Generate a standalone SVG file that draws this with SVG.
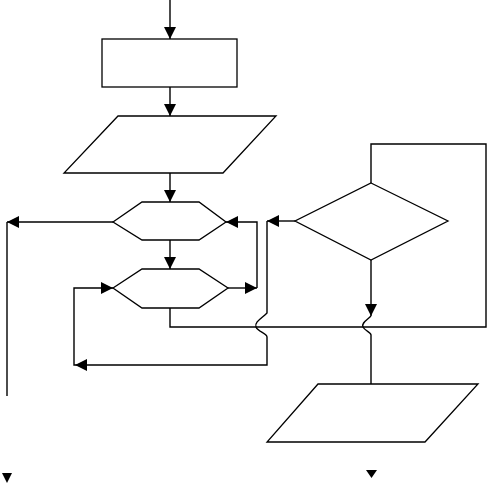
<svg xmlns="http://www.w3.org/2000/svg" width="487" height="485" viewBox="0 0 487 485">
<style>
.n{fill:#fff;stroke:#000;stroke-width:1.3}
.c{fill:none;stroke:#000;stroke-width:1.4}
.a{marker-end:url(#ah)}
.h{fill:#000;stroke:none}
</style>
<defs>
<marker id="ah" markerUnits="userSpaceOnUse" markerWidth="12" markerHeight="12" refX="10" refY="5" orient="auto" viewBox="0 0 10 10">
<path d="M0,0 L10,5 L0,10 z" fill="#000"/>
</marker>
</defs>
<rect width="487" height="485" fill="#fff"/>
<g id="connectors">
<path class="c a" d="M170,0 V39"/>
<path class="c a" d="M170,87 V116"/>
<path class="c a" d="M170,173 V202"/>
<path class="c a" d="M113,222 H7"/>
<path class="c" d="M7,222 V396"/>
<path class="c a" d="M170,240 V269"/>
<path class="c a" d="M228,288 H257"/>
<path class="c a" d="M257,288 V222 H226"/>
<path class="c" d="M170,308 V327 H486 V144 H371 V183"/>
<path class="c a" d="M295,221 H267"/>
<path class="c a" d="M267,221 V313 C262,318 254,322 256,327 C258,332 267,333 267,337 V365 H75"/>
<path class="c a" d="M75,365 H74 V288 H113"/>
<path class="c a" d="M371,260 V316"/>
<path class="c" d="M371,316 C367,320 361,323 363,327 C365,331 371,332 371,335 V384"/>
<polygon class="h" points="2,473 12,473 7,483"/>
<polygon class="h" points="366,470 377,470 371.5,478"/>
</g>
<g id="start-rect"><rect class="n" x="102" y="39" width="135" height="48"/></g>
<g id="input1"><polygon class="n" points="118,116 276,116 223,173 64,173"/></g>
<g id="hex1"><polygon class="n" points="113,222 142,202 199,202 226,222 199,240 142,240"/></g>
<g id="hex2"><polygon class="n" points="113,288 142,269 199,269 228,288 199,308 142,308"/></g>
<g id="diamond"><polygon class="n" points="371,183 448,221 371,260 295,221"/></g>
<g id="output2"><polygon class="n" points="318,384 478,384 425,442 267,442"/></g>
</svg>
